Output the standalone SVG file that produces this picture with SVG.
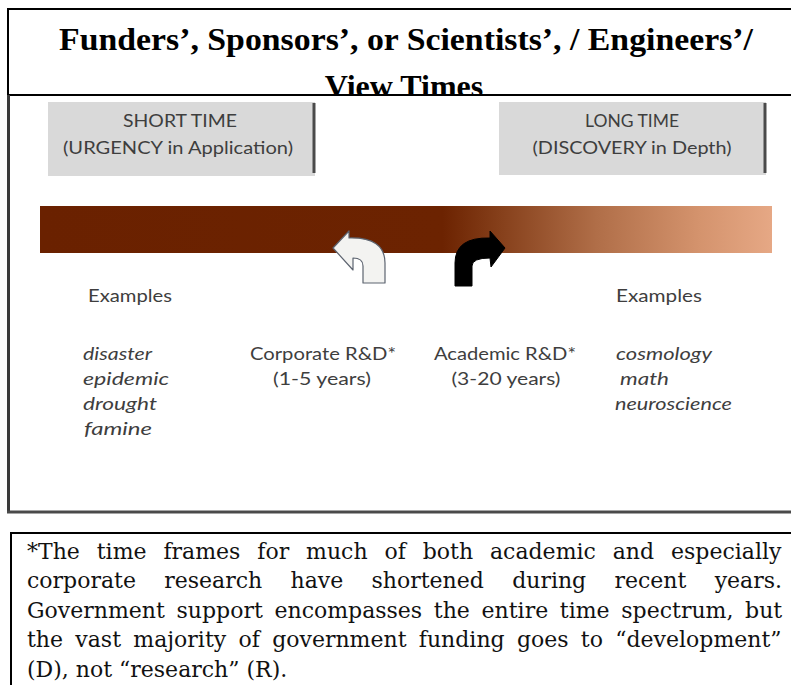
<svg xmlns="http://www.w3.org/2000/svg" width="791" height="685" viewBox="0 0 791 685">
  <defs>
    <style>
      .frame { fill: none; stroke: #000; stroke-width: 2; }
      .title { font-family: "Liberation Serif", "Times New Roman", serif; font-weight: bold; font-size: 32px; fill: #000; }
      .lbl { font-family: Lato, "Open Sans", "Liberation Sans", sans-serif; font-size: 18px; fill: #3e3e3e; }
      .ex { font-family: Lato, "Open Sans", "Liberation Sans", sans-serif; font-size: 18px; font-style: italic; fill: #3e3e3e; }
      .tbox { fill: #d9d9d9; }
      .tedge { stroke: #4a4a4a; stroke-width: 3; }
      .note { font-family: "DejaVu Serif", "Liberation Serif", serif; font-size: 22px; fill: #111; }
    </style>
    <linearGradient id="barGrad" x1="0" y1="0" x2="1" y2="0">
      <stop offset="0" stop-color="#6a2100"/>
      <stop offset="0.55" stop-color="#6c2301"/>
      <stop offset="0.63" stop-color="#86401b"/>
      <stop offset="0.76" stop-color="#b06e48"/>
      <stop offset="0.9" stop-color="#d4936d"/>
      <stop offset="1" stop-color="#e6a885"/>
    </linearGradient>
    <clipPath id="titleClip">
      <rect x="8" y="9" width="783" height="85"/>
    </clipPath>
  </defs>

  <rect width="791" height="685" fill="#fff"/>

  <!-- outer frames -->
  <g id="frames">
    <line class="frame" x1="7" y1="9" x2="791" y2="9"/>
    <line class="frame" x1="8" y1="8" x2="8" y2="96"/>
    <line class="frame" x1="8" y1="95" x2="791" y2="95"/>
    <line x1="8.5" y1="95" x2="8.5" y2="513" stroke="#3a3a3a" stroke-width="3"/>
    <line x1="7" y1="512" x2="791" y2="512" stroke="#4a4a4a" stroke-width="3"/>
    <rect class="frame" x="11" y="533" width="800" height="170"/>
  </g>

  <!-- heading -->
  <g id="title" clip-path="url(#titleClip)">
    <text class="title" x="59" y="50" textLength="694" lengthAdjust="spacingAndGlyphs">Funders’, Sponsors’, or Scientists’, / Engineers’/</text>
    <text class="title" x="404" y="97" text-anchor="middle">View Times</text>
  </g>

  <!-- time-scale headers -->
  <g id="short-time">
    <rect class="tbox" x="48" y="102" width="267" height="74"/>
    <line class="tedge" x1="314" y1="103" x2="314" y2="173"/>
    <text class="lbl" x="180" y="127" text-anchor="middle" textLength="114" lengthAdjust="spacingAndGlyphs">SHORT TIME</text>
    <text class="lbl" x="178" y="154" text-anchor="middle" textLength="230" lengthAdjust="spacingAndGlyphs">(URGENCY in Application)</text>
  </g>
  <g id="long-time">
    <rect class="tbox" x="499" y="102" width="267" height="73"/>
    <line class="tedge" x1="765" y1="103" x2="765" y2="173"/>
    <text class="lbl" x="632" y="127" text-anchor="middle" textLength="94" lengthAdjust="spacingAndGlyphs">LONG TIME</text>
    <text class="lbl" x="632" y="154" text-anchor="middle" textLength="199" lengthAdjust="spacingAndGlyphs">(DISCOVERY in Depth)</text>
  </g>

  <!-- time spectrum bar -->
  <g id="timeline-bar">
    <rect x="40" y="206" width="732" height="47" fill="url(#barGrad)"/>
  </g>

  <!-- turn arrows on the bar -->
  <g id="arrows">
    <path d="M333,248 L349,231 L349,238 Q385,237 385,263 L385,283 L363,283 L363,266 Q363,258 353,258 L353,270 Z" fill="#f3f3f1" stroke="#5d6470" stroke-width="1.2" stroke-linejoin="round"/>
    <path d="M505,248 L490,231 L490,238 Q455,237 455,263 L455,286 L472,286 L472,266 Q472,258 490,258 L491,267 Z" fill="#000" stroke="#000" stroke-width="1" stroke-linejoin="round"/>
  </g>

  <!-- short-time examples -->
  <g id="examples-short">
    <text class="lbl" x="88" y="302" textLength="84" lengthAdjust="spacingAndGlyphs">Examples</text>
    <text class="ex" x="83" y="360" textLength="69" lengthAdjust="spacingAndGlyphs">disaster</text>
    <text class="ex" x="83" y="385" textLength="86" lengthAdjust="spacingAndGlyphs">epidemic</text>
    <text class="ex" x="83" y="410" textLength="74" lengthAdjust="spacingAndGlyphs">drought</text>
    <text class="ex" x="84" y="435" textLength="68" lengthAdjust="spacingAndGlyphs">famine</text>
  </g>

  <g id="corporate-rd">
    <text class="lbl" x="323" y="360" text-anchor="middle" textLength="146" lengthAdjust="spacingAndGlyphs">Corporate R&amp;D*</text>
    <text class="lbl" x="322" y="385" text-anchor="middle" textLength="98" lengthAdjust="spacingAndGlyphs">(1-5 years)</text>
  </g>

  <g id="academic-rd">
    <text class="lbl" x="505" y="360" text-anchor="middle" textLength="142" lengthAdjust="spacingAndGlyphs">Academic R&amp;D*</text>
    <text class="lbl" x="506" y="385" text-anchor="middle" textLength="109" lengthAdjust="spacingAndGlyphs">(3-20 years)</text>
  </g>

  <!-- long-time examples -->
  <g id="examples-long">
    <text class="lbl" x="616" y="302" textLength="86" lengthAdjust="spacingAndGlyphs">Examples</text>
    <text class="ex" x="616" y="360" textLength="96" lengthAdjust="spacingAndGlyphs">cosmology</text>
    <text class="ex" x="620" y="385" textLength="49" lengthAdjust="spacingAndGlyphs">math</text>
    <text class="ex" x="615" y="410" textLength="117" lengthAdjust="spacingAndGlyphs">neuroscience</text>
  </g>

  <!-- footnote, justified lines -->
  <g id="footnote">
    <text class="note" x="27" y="558.5" word-spacing="9.9">*The time frames for much of both academic and especially</text>
    <text class="note" x="27" y="588" word-spacing="21.3">corporate research have shortened during recent years.</text>
    <text class="note" x="27" y="617.5" word-spacing="4.7">Government support encompasses the entire time spectrum, but</text>
    <text class="note" x="27" y="647" word-spacing="5.3">the vast majority of government funding goes to “development”</text>
    <text class="note" x="27" y="676.5">(D), not “research” (R).</text>
  </g>
</svg>
